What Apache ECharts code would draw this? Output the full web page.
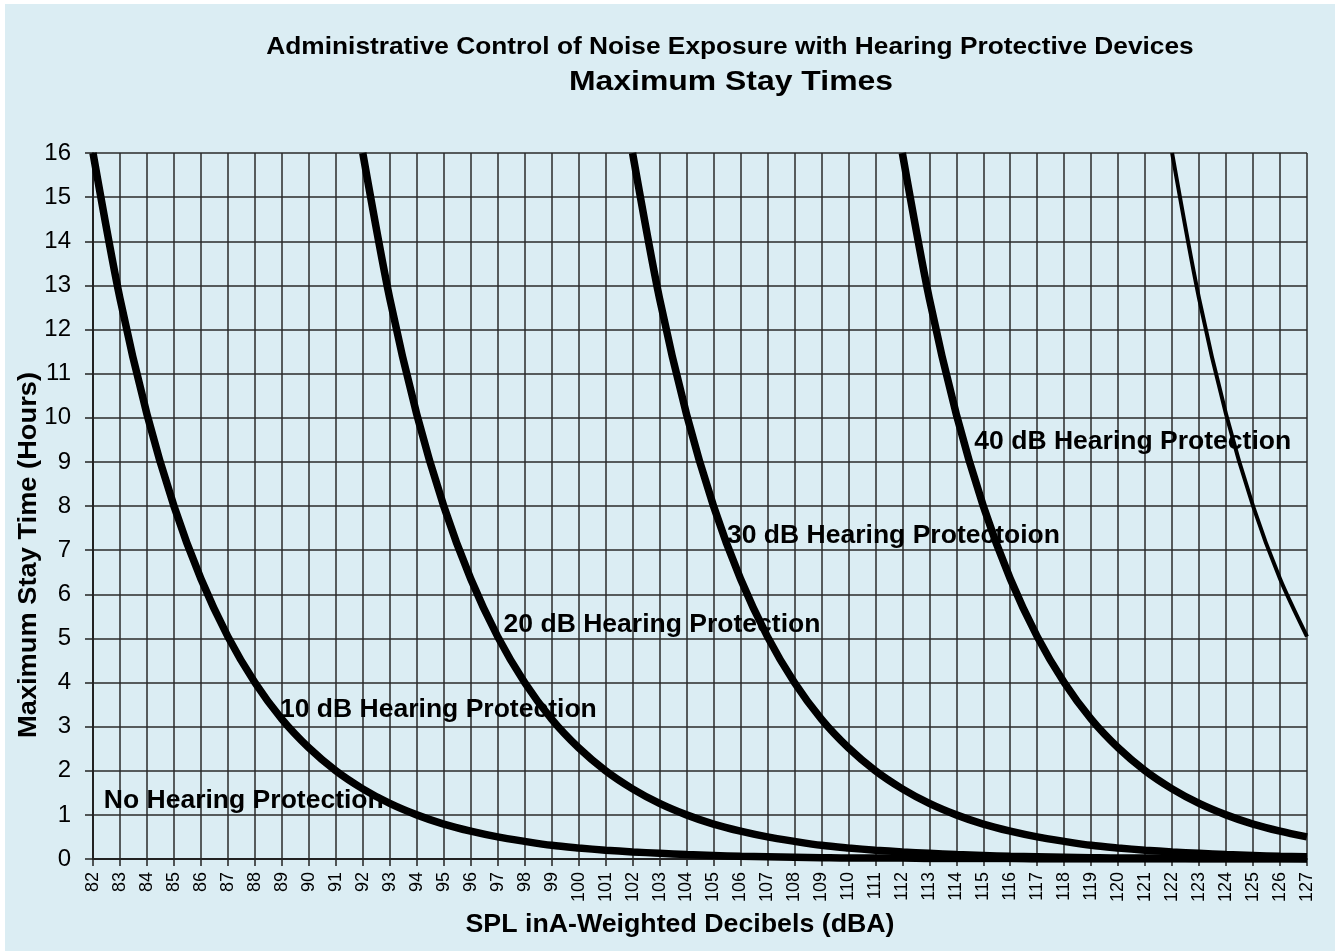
<!DOCTYPE html>
<html>
<head>
<meta charset="utf-8">
<title>Maximum Stay Times</title>
<script src="https://cdn.jsdelivr.net/npm/echarts@6/dist/echarts.min.js"></script>
<style>
    html, body { margin: 0; padding: 0; background: #fff; }
    #app-chart { position: absolute; left: 5px; top: 4px; width: 1330px; height: 947px; }
</style>
</head>
<body>
<div id="app-chart"></div>
<script>
//======================================================================================================================
// Data
//======================================================================================================================

var levels = [82, 83, 84, 85, 86, 87, 88, 89, 90, 91, 92, 93, 94, 95, 96, 97, 98, 99, 100, 101, 102, 103, 104,
    105, 106, 107, 108, 109, 110, 111, 112, 113, 114, 115, 116, 117, 118, 119, 120, 121, 122, 123, 124, 125, 126, 127];

var noProtection = [16, 12.7, 10.08, 8, 6.35, 5.04, 4, 3.17, 2.52, 2, 1.59, 1.26, 1, 0.79, 0.63, 0.5, 0.4, 0.31,
    0.25, 0.2, 0.16, 0.13, 0.1, 0.08, 0.06, 0.05, 0.04, 0.03, 0.02, 0.02, 0.02, 0.01, 0.01, 0.01, 0.01, 0, 0, 0, 0,
    0, 0, 0, 0, 0, 0, 0];

var protection10 = [null, null, null, null, null, null, null, null, null, null,
    16, 12.7, 10.08, 8, 6.35, 5.04, 4, 3.17, 2.52, 2, 1.59, 1.26, 1, 0.79, 0.63, 0.5, 0.4, 0.31, 0.25, 0.2, 0.16,
    0.13, 0.1, 0.08, 0.06, 0.05, 0.04, 0.03, 0.02, 0.02, 0.02, 0.01, 0.01, 0.01, 0.01, 0];

var protection20 = [null, null, null, null, null, null, null, null, null, null,
    null, null, null, null, null, null, null, null, null, null,
    16, 12.7, 10.08, 8, 6.35, 5.04, 4, 3.17, 2.52, 2, 1.59, 1.26, 1, 0.79, 0.63, 0.5, 0.4, 0.31, 0.25, 0.2, 0.16,
    0.13, 0.1, 0.08, 0.06, 0.05];

var protection30 = [null, null, null, null, null, null, null, null, null, null,
    null, null, null, null, null, null, null, null, null, null,
    null, null, null, null, null, null, null, null, null, null,
    16, 12.7, 10.08, 8, 6.35, 5.04, 4, 3.17, 2.52, 2, 1.59, 1.26, 1, 0.79, 0.63, 0.5];

var protection40 = [null, null, null, null, null, null, null, null, null, null,
    null, null, null, null, null, null, null, null, null, null,
    null, null, null, null, null, null, null, null, null, null,
    null, null, null, null, null, null, null, null, null, null,
    16, 12.7, 10.08, 8, 6.35, 5.04];

var seriesNames = ['No Hearing Protection', '10 dB Hearing Protection', '20 dB Hearing Protection',
    '30 dB Hearing Protectoion', '40 dB Hearing Protection'];

// where each curve's caption starts, in chart units (dBA, hours)
var labelAt = [[82.4, 1.31], [88.93, 3.37], [97.22, 5.3], [105.5, 7.31], [114.67, 9.44]];

//======================================================================================================================
// Chart
//======================================================================================================================

var font = '"Liberation Sans", Arial, sans-serif';
var allSeries = [noProtection, protection10, protection20, protection30, protection40];
var widths = [7.5, 7.5, 7.5, 7.5, 4];

var chart = echarts.init(document.getElementById('app-chart'));

var series = allSeries.map(function(values, i) {
    return {
        name: seriesNames[i],
        type: 'line',
        smooth: 0.3,
        symbol: 'none',
        connectNulls: false,
        lineStyle: { color: '#000', width: widths[i] },
        data: levels.map(function(x, j) { return [x, values[j]]; })
    };
});

chart.setOption({
    backgroundColor: '#dbedf3',
    animation: false,
    textStyle: { fontFamily: font },
    grid: { left: 88, top: 149, right: 28, bottom: 92 },
    xAxis: {
        type: 'value',
        min: 82,
        max: 127,
        interval: 1,
        axisLine: { onZero: false, lineStyle: { color: '#222', width: 2 } },
        axisTick: { show: true, length: 7, lineStyle: { color: '#222', width: 1.5 } },
        axisLabel: { color: '#000', fontSize: 18, rotate: 90, margin: 13, fontFamily: font },
        splitLine: { show: true, lineStyle: { color: '#2a2a2a', width: 1.5 } }
    },
    yAxis: {
        type: 'value',
        min: 0,
        max: 16,
        interval: 1,
        axisLine: { show: true, lineStyle: { color: '#222', width: 2 } },
        axisTick: { show: true, length: 8, lineStyle: { color: '#222', width: 1.5 } },
        axisLabel: { color: '#000', fontSize: 24, margin: 22, fontFamily: font },
        splitLine: { show: true, lineStyle: { color: '#2a2a2a', width: 1.5 } }
    },
    series: series
});

var bold = { fill: '#000', fontWeight: 'bold', fontFamily: font };
var graphics = [
    { type: 'text', x: 725, y: 43, scaleX: 1.095, style: Object.assign({ text: 'Administrative Control of Noise Exposure with Hearing Protective Devices', fontSize: 24, align: 'center', verticalAlign: 'middle' }, bold) },
    { type: 'text', x: 726, y: 78, scaleX: 1.14, style: Object.assign({ text: 'Maximum Stay Times', fontSize: 28, align: 'center', verticalAlign: 'middle' }, bold) },
    { type: 'text', x: 675, y: 921, scaleX: 1.07, style: Object.assign({ text: 'SPL inA-Weighted Decibels (dBA)', fontSize: 25, align: 'center', verticalAlign: 'middle' }, bold) },
    { type: 'text', x: 24, y: 551, rotation: Math.PI / 2, scaleX: 1.09, style: Object.assign({ text: 'Maximum Stay Time (Hours)', fontSize: 25, align: 'center', verticalAlign: 'middle' }, bold) }
];

labelAt.forEach(function(p, i) {
    var px = chart.convertToPixel({ gridIndex: 0 }, p);
    graphics.push({
        type: 'text', x: px[0], y: px[1], z: 10, scaleX: 1.04,
        style: Object.assign({ text: seriesNames[i], fontSize: 25.5, align: 'left', verticalAlign: 'middle' }, bold)
    });
});

chart.setOption({ graphic: graphics });
</script>
</body>
</html>
